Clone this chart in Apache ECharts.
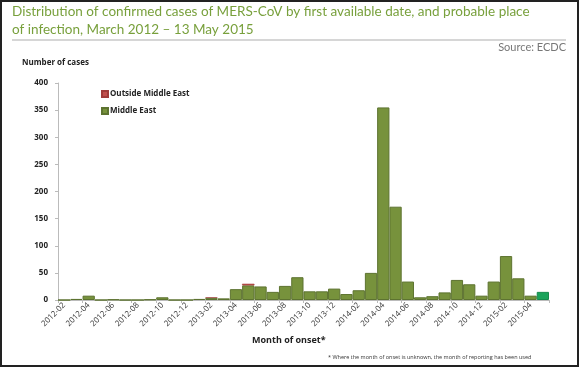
<!DOCTYPE html>
<html><head><meta charset="utf-8">
<script src="https://cdn.jsdelivr.net/npm/echarts@6/dist/echarts.min.js"></script>
<style>html,body{margin:0;padding:0;background:#fff}#c{width:580px;height:368px}</style>
</head><body><div id="c"></div>
<script>
const months = ['2012-02','2012-03','2012-04','2012-05','2012-06','2012-07','2012-08','2012-09','2012-10','2012-11','2012-12',
'2013-01','2013-02','2013-03','2013-04','2013-05','2013-06','2013-07','2013-08','2013-09','2013-10','2013-11','2013-12',
'2014-01','2014-02','2014-03','2014-04','2014-05','2014-06','2014-07','2014-08','2014-09','2014-10','2014-11','2014-12',
'2015-01','2015-02','2015-03','2015-04','2015-05'];
const middleEast = [0,2,8,0,1,0,0,1,5,0,0,
2,4,3,20,27,25,15,26,42,16,16,21,
11,18,50,355,172,34,5,7,14,37,29,8,
34,81,40,8,15];
const outsideME = [0,0,0,0,0,0,0,0,0,0,0,
0,1,0,0,3,0,0,0,0,0,0,0,
0,0,0,0,0,0,0,0,0,0,0,0,
0,0,0,0,0];
const highlightIndex = 39;
const yTicks = [0,50,100,150,200,250,300,350,400];
const titleLine1 = 'Distribution of confirmed cases of MERS-CoV by first available date, and probable place';
const titleLine2 = 'of infection, March 2012 \u2013 13 May 2015';

const ctx = document.createElement('canvas').getContext('2d');
ctx.font = '16px Lato';
const titleSize = Math.min(16, 16 * 518 / ctx.measureText(titleLine1).width);

const chart = echarts.init(document.getElementById('c'));
const meData = middleEast.map((v,i)=> i===highlightIndex ? {value:v,itemStyle:{color:'#1aa35a',borderColor:'#168a4c'}} : v);
const outData = outsideME.map(v => v === 0 ? '-' : v);
chart.setOption({
  animation:false,
  graphic:[
    {type:'rect',shape:{x:1,y:1,width:577,height:365},style:{fill:'none',stroke:'#222',lineWidth:2}},
    {type:'line',shape:{x1:12,y1:40,x2:566,y2:40},style:{stroke:'#c8c8c8',lineWidth:1.5}},
    {type:'text',right:14,top:42,style:{text:'Source: ECDC',font:'11px Lato, sans-serif',fill:'#777'}},
    {type:'text',left:22,top:59,style:{text:'Number of cases',font:'bold 8px "Open Sans", sans-serif',fill:'#222'}},
    {type:'text',left:252,top:336,style:{text:'Month of onset*',font:'bold 9px "Open Sans", sans-serif',fill:'#222'}},
    {type:'text',left:328,top:354,style:{text:'* Where the month of onset is unknown, the month of reporting has been used',font:'5.5px "Open Sans", sans-serif',fill:'#333'}}
  ],
  title:{text:titleLine1 + '\n' + titleLine2,padding:0,
    left:12,top:3,textStyle:{fontFamily:'Lato, sans-serif',fontWeight:'normal',fontSize:titleSize,lineHeight:18,color:'#78a03c'}},
  legend:{left:96,top:85,orient:'vertical',itemWidth:6,itemHeight:6,itemGap:9,icon:'rect',
    textStyle:{fontFamily:'"Open Sans", sans-serif',fontWeight:'bold',fontSize:8,color:'#222',padding:[0,0,0,-3]},
    data:['Outside Middle East','Middle East']},
  grid:{left:58,right:31,top:83,bottom:68,containLabel:false},
  xAxis:{type:'category',data:months,
    axisLine:{lineStyle:{color:'#bbb'}},
    axisTick:{show:true,alignWithLabel:false,lineStyle:{color:'#bbb'},length:3},
    axisLabel:{interval:1,rotate:45,fontSize:8,color:'#333',fontFamily:'"Open Sans", sans-serif',margin:4}},
  yAxis:{type:'value',min:yTicks[0],max:yTicks[yTicks.length-1],interval:50,
    axisLine:{show:true,lineStyle:{color:'#bbb'}},
    axisTick:{show:true,inside:false,length:3,lineStyle:{color:'#bbb'}},
    splitLine:{show:false},
    axisLabel:{fontSize:8,color:'#222',fontWeight:'bold',fontFamily:'"Open Sans", sans-serif',margin:10}},
  series:[
    {name:'Middle East',type:'bar',stack:'a',data:meData,barCategoryGap:'0%',
      itemStyle:{color:'#77923c',borderColor:'#5d7330',borderWidth:1}},
    {name:'Outside Middle East',type:'bar',stack:'a',data:outData,barCategoryGap:'0%',
      itemStyle:{color:'#c0504d',borderColor:'#a03c3a',borderWidth:0.5}}
  ]
});
</script></body></html>
